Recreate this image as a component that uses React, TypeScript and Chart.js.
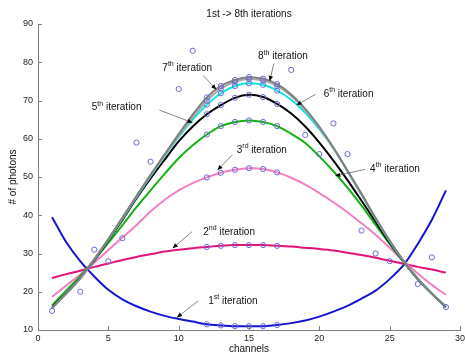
import React, { useEffect, useRef } from "react";
import { Chart, registerables } from "chart.js";

Chart.register(...registerables);

// ---------- data ----------
const channels = [1, 2, 3, 4, 5, 6, 7, 8, 9, 10, 11, 12, 13, 14, 15, 16, 17, 18, 19, 20, 21, 22, 23, 24, 25, 26, 27, 28, 29];

const iter1 = [39.5, 33.0, 28.0, 24.0, 20.5, 18.0, 16.2, 14.8, 13.7, 12.9, 12.2, 11.5, 11.2, 11.0, 11.0, 11.0, 11.3, 11.8, 12.5, 13.5, 14.8, 16.3, 18.2, 20.3, 23.3, 27.0, 32.5, 38.8, 46.5];
const iter2 = [23.6, 24.6, 25.5, 26.5, 27.4, 28.3, 29.1, 29.8, 30.5, 31.0, 31.4, 31.7, 32.0, 32.2, 32.2, 32.2, 32.0, 31.8, 31.5, 31.2, 30.8, 30.2, 29.6, 28.9, 28.1, 27.3, 26.5, 25.8, 25.0];
const iter3 = [18.7, 21.6, 24.5, 27.6, 30.9, 34.2, 37.4, 41.0, 44.0, 46.5, 48.4, 49.9, 51.1, 51.9, 52.3, 52.1, 51.2, 49.8, 48.0, 45.8, 43.4, 40.8, 37.9, 34.9, 31.5, 28.0, 24.8, 21.8, 19.2];
const iter4 = [16.4, 20.3, 24.1, 28.3, 32.8, 37.4, 42.1, 46.5, 50.8, 54.9, 58.3, 61.1, 63.3, 64.4, 64.8, 64.4, 63.3, 61.3, 58.9, 55.4, 51.5, 47.2, 42.5, 37.5, 32.5, 27.7, 23.2, 19.4, 16.2];
const iter5 = [15.9, 19.6, 23.6, 28.2, 33.4, 38.8, 44.4, 49.6, 54.5, 59.3, 63.2, 66.4, 68.8, 70.7, 71.5, 70.9, 69.1, 66.6, 63.2, 59.0, 54.3, 49.2, 43.8, 38.3, 32.8, 27.8, 23.3, 19.5, 15.9];
const iter6 = [15.7, 19.5, 23.5, 28.4, 33.6, 39.1, 44.7, 50.2, 55.5, 60.5, 65.0, 68.9, 71.9, 73.8, 74.5, 74.1, 72.6, 70.2, 66.8, 62.5, 57.5, 51.5, 45.3, 39.1, 33.2, 27.9, 23.4, 19.5, 16.0];
const iter7 = [15.7, 19.5, 23.5, 28.5, 33.7, 39.3, 44.9, 50.4, 55.7, 60.8, 65.6, 69.9, 73.1, 74.9, 75.6, 75.2, 73.8, 71.2, 67.5, 62.9, 57.5, 51.6, 45.5, 39.2, 33.3, 28.0, 23.4, 19.5, 16.0];
const iter8 = [15.7, 19.5, 23.5, 28.5, 33.8, 39.4, 45.0, 50.6, 55.9, 61.2, 66.3, 70.8, 73.8, 75.4, 76.1, 75.7, 74.3, 71.6, 67.8, 63.1, 57.7, 51.7, 45.6, 39.3, 33.4, 28.0, 23.4, 19.5, 16.0];

const measuredX = [1, 3, 4, 5, 6, 7, 8, 10, 11, 18, 19, 20, 21, 22, 23, 24, 25, 27, 28, 29];
const measuredY = [15, 20, 31, 28, 34, 59, 54, 73, 83, 78, 61, 56, 64, 56, 36, 30, 28, 22, 29, 16];

const markerChannels = [12, 13, 14, 15, 16, 17];

const xTicks = [0, 5, 10, 15, 20, 25, 30];
const yTicks = [10, 20, 30, 40, 50, 60, 70, 80, 90];

const titleText = "1st -> 8th iterations";
const xLabelText = "channels";
const yLabelText = "# of photons";

const seriesNames = ["1st iteration", "2nd iteration", "3rd iteration", "4th iteration", "5th iteration", "6th iteration", "7th iteration", "8th iteration"];
const seriesValues = [iter1, iter2, iter3, iter4, iter5, iter6, iter7, iter8];
const seriesColors = ["#1414d2", "#e2127a", "#f27ec4", "#14b014", "#000000", "#10e4e4", "#a8a8a8", "#808080"];

// annotation labels (data coordinates): number, superscript, text anchor, arrow start, arrow tip
const annNum = ["1", "2", "3", "4", "5", "6", "7", "8"];
const annSup = ["st", "nd", "rd", "th", "th", "th", "th", "th"];
const annTextX = [12.1, 11.75, 14.13, 23.61, 3.82, 20.31, 8.84, 15.64];
const annTextY = [17.7, 35.9, 57.2, 52.3, 68.4, 71.9, 78.8, 81.7];
const annFromX = [11.39, 10.95, 13.82, 23.26, 8.63, 19.72, 11.75, 16.77];
const annFromY = [17.6, 35.7, 55.8, 52.0, 67.5, 71.6, 76.5, 79.7];
const annToX = [9.88, 9.57, 12.76, 21.13, 10.99, 18.38, 12.67, 16.47];
const annToY = [13.3, 31.4, 51.8, 50.3, 64.2, 68.8, 72.9, 75.1];

const FONT = '"Liberation Sans", Arial, sans-serif';
const AXIS = "#808080";
const MARKER = "#6a6ad2";

const decorPlugin = {
  id: "decor",
  afterDraw(chart: any) {
    const { ctx, chartArea } = chart;
    const xs = chart.scales.x;
    const ys = chart.scales.y;
    ctx.save();
    // inward tick marks
    ctx.strokeStyle = AXIS;
    ctx.lineWidth = 1;
    xTicks.forEach((v) => {
      const px = Math.round(xs.getPixelForValue(v)) + 0.5;
      ctx.beginPath();
      ctx.moveTo(px, chartArea.bottom);
      ctx.lineTo(px, chartArea.bottom - 4);
      ctx.stroke();
    });
    yTicks.forEach((v) => {
      const py = Math.round(ys.getPixelForValue(v)) + 0.5;
      ctx.beginPath();
      ctx.moveTo(chartArea.left, py);
      ctx.lineTo(chartArea.left + 4, py);
      ctx.stroke();
    });

    // title and axis labels
    ctx.fillStyle = "#111";
    ctx.font = "10px " + FONT;
    ctx.textAlign = "center";
    ctx.textBaseline = "middle";
    const cx = (chartArea.left + chartArea.right) / 2;
    ctx.fillText(titleText, cx, chartArea.top - 10);
    ctx.fillText(xLabelText, cx, chartArea.bottom + 19);
    ctx.save();
    ctx.translate(chartArea.left - 25, (chartArea.top + chartArea.bottom) / 2);
    ctx.rotate(-Math.PI / 2);
    ctx.fillText(yLabelText, 0, 0);
    ctx.restore();

    // annotations
    for (let i = 0; i < annNum.length; i++) {
      const fx = xs.getPixelForValue(annFromX[i]);
      const fy = ys.getPixelForValue(annFromY[i]);
      const tx = xs.getPixelForValue(annToX[i]);
      const ty = ys.getPixelForValue(annToY[i]);
      ctx.strokeStyle = "#666";
      ctx.lineWidth = 0.8;
      ctx.beginPath();
      ctx.moveTo(fx, fy);
      ctx.lineTo(tx, ty);
      ctx.stroke();
      const ang = Math.atan2(ty - fy, tx - fx);
      const L = 5, W = 2.2;
      ctx.fillStyle = "#000";
      ctx.beginPath();
      ctx.moveTo(tx, ty);
      ctx.lineTo(tx - L * Math.cos(ang) + W * Math.sin(ang), ty - L * Math.sin(ang) - W * Math.cos(ang));
      ctx.lineTo(tx - L * Math.cos(ang) - W * Math.sin(ang), ty - L * Math.sin(ang) + W * Math.cos(ang));
      ctx.closePath();
      ctx.fill();

      let px = xs.getPixelForValue(annTextX[i]);
      const py = ys.getPixelForValue(annTextY[i]);
      ctx.fillStyle = "#111";
      ctx.textAlign = "left";
      ctx.textBaseline = "middle";
      ctx.font = "10px " + FONT;
      ctx.fillText(annNum[i], px, py + 1);
      px += ctx.measureText(annNum[i]).width;
      ctx.font = "7px " + FONT;
      ctx.fillText(annSup[i], px, py - 3);
      px += ctx.measureText(annSup[i]).width;
      ctx.font = "10px " + FONT;
      ctx.fillText(" iteration", px, py + 1);
    }
    ctx.restore();
  },
};

export default function App() {
  const canvasRef = useRef<HTMLCanvasElement | null>(null);

  useEffect(() => {
    const canvas = canvasRef.current;
    if (!canvas) return;

    const lineSets = seriesValues.map((vals, i) => ({
      label: seriesNames[i],
      data: channels.map((c, j) => ({ x: c, y: vals[j] })),
      borderColor: seriesColors[i],
      backgroundColor: seriesColors[i],
      borderWidth: 2,
      tension: 0.3,
      fill: false,
      order: 10 - i,
      pointRadius: (ctx: any) => (ctx.raw && markerChannels.includes(ctx.raw.x) ? 2.6 : 0),
      pointStyle: "circle",
      pointBorderColor: MARKER,
      pointBackgroundColor: "rgba(0,0,0,0)",
      pointBorderWidth: 1,
    }));

    const measuredSet = {
      label: "measured",
      data: measuredX.map((x, i) => ({ x, y: measuredY[i] })),
      showLine: false,
      borderColor: MARKER,
      backgroundColor: "rgba(0,0,0,0)",
      pointRadius: 2.6,
      pointBorderWidth: 1,
      pointBorderColor: MARKER,
      pointBackgroundColor: "rgba(0,0,0,0)",
      order: 0,
    };

    const chart = new Chart(canvas, {
      type: "line",
      data: { datasets: [...lineSets, measuredSet] as any },
      options: {
        animation: false,
        responsive: false,
        devicePixelRatio: 1,
        events: [],
        layout: { padding: { top: 24, right: 3, left: 0, bottom: 0 } },
        plugins: {
          legend: { display: false },
          tooltip: { enabled: false },
          title: { display: false },
        },
        scales: {
          x: {
            type: "linear",
            min: 0,
            max: 30,
            grid: { display: false, drawTicks: false },
            border: { display: true, color: AXIS, width: 1 },
            ticks: {
              stepSize: 5,
              color: "#222",
              font: { family: FONT, size: 9 },
              padding: 3,
              maxRotation: 0,
              autoSkip: false,
            },
            afterFit: (s: any) => {
              s.height = 23;
              s.paddingLeft = 0;
              s.paddingRight = 0;
            },
          },
          y: {
            type: "linear",
            min: 10,
            max: 90,
            grid: { display: false, drawTicks: false },
            border: { display: true, color: AXIS, width: 1 },
            ticks: {
              stepSize: 10,
              color: "#222",
              font: { family: FONT, size: 9 },
              padding: 5,
            },
            afterFit: (s: any) => {
              s.width = 38;
            },
          },
        },
      },
      plugins: [decorPlugin],
    });

    return () => chart.destroy();
  }, []);

  return (
    <div style={{ position: "fixed", left: 0, top: 0, width: 465, height: 353, background: "#fff" }}>
      <canvas ref={canvasRef} width={465} height={353} style={{ display: "block" }} />
    </div>
  );
}
